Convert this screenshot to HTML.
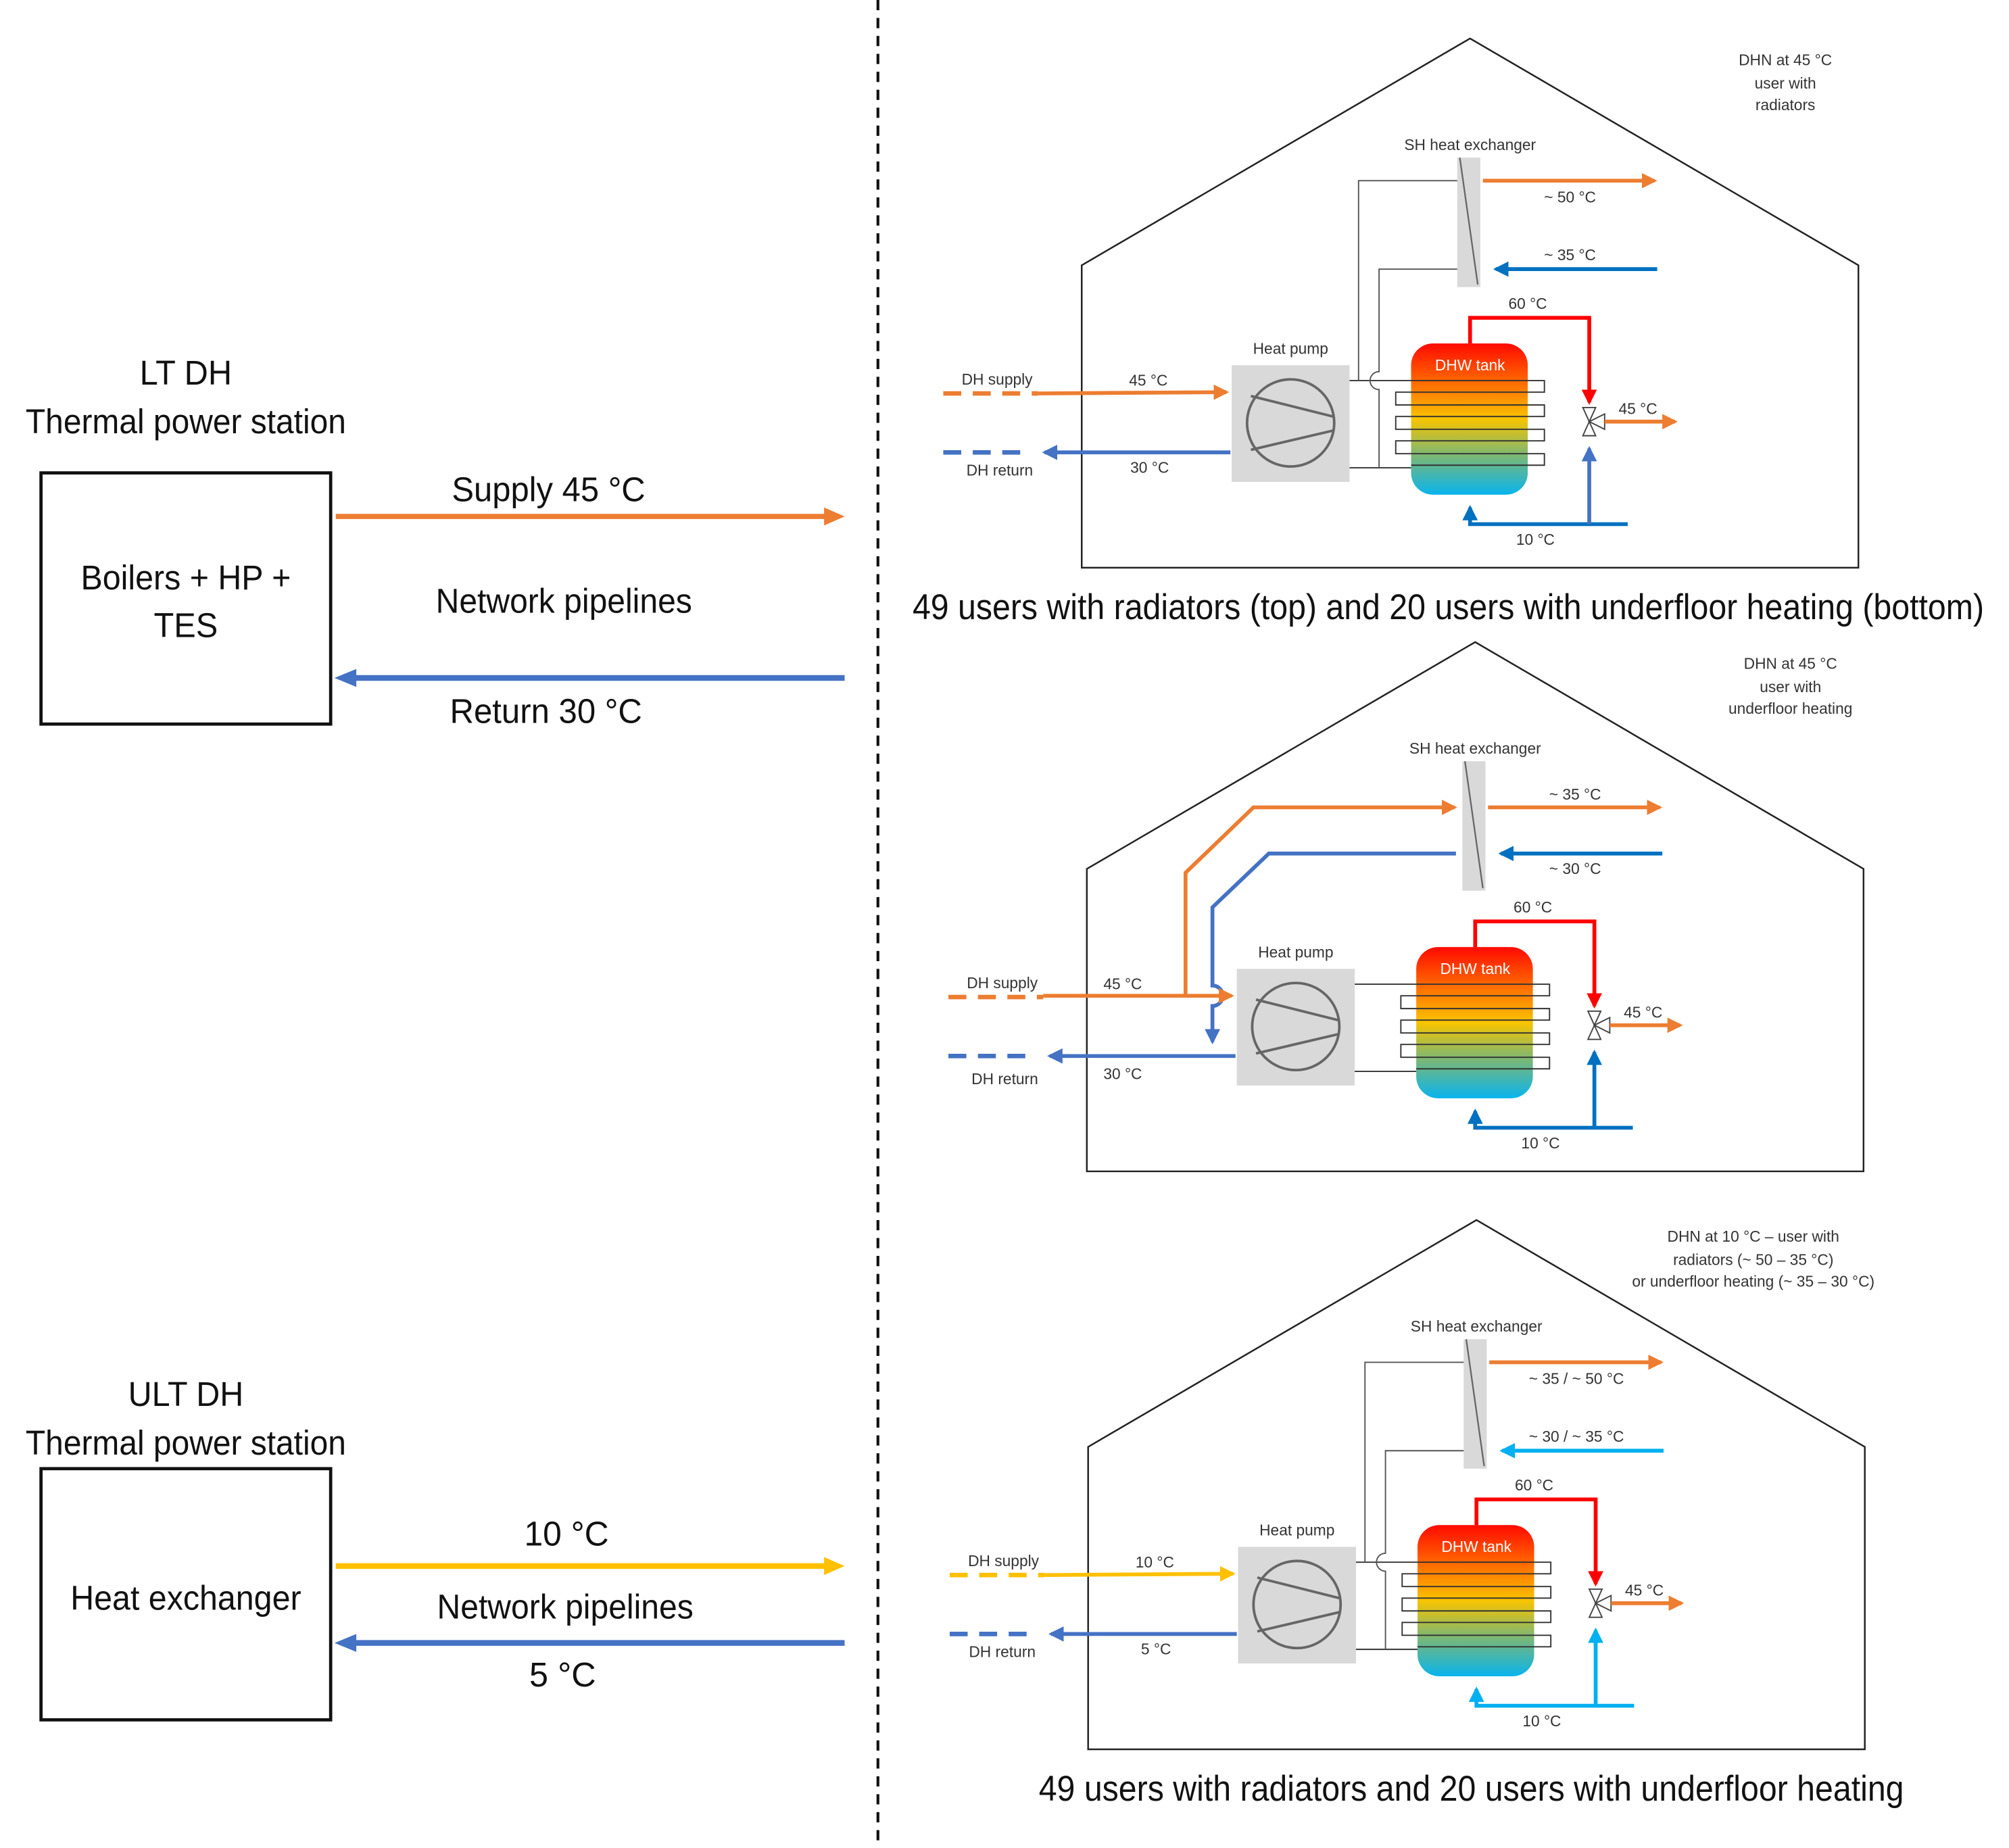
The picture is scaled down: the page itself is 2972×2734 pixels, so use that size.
<!DOCTYPE html>
<html><head><meta charset="utf-8"><style>html,body{margin:0;padding:0;background:#fff}svg{display:block}</style></head>
<body>
<svg xmlns="http://www.w3.org/2000/svg" width="2972" height="2734" viewBox="0 0 1567.5 1442" preserveAspectRatio="none" font-family="Liberation Sans, sans-serif">
<defs>
<linearGradient id="tg" x1="0" y1="0" x2="0" y2="1">
<stop offset="0" stop-color="#ff0a00"/><stop offset="0.3" stop-color="#ff7a00"/><stop offset="0.5" stop-color="#f8c400"/><stop offset="0.72" stop-color="#86b86a"/><stop offset="1" stop-color="#08b4ee"/>
</linearGradient>
<marker id="mo" markerUnits="userSpaceOnUse" markerWidth="12" markerHeight="12" refX="10" refY="6" orient="auto"><path d="M0,0 L12,6 L0,12 z" fill="#ed7d31"/></marker>
<marker id="my" markerUnits="userSpaceOnUse" markerWidth="12" markerHeight="12" refX="10" refY="6" orient="auto"><path d="M0,0 L12,6 L0,12 z" fill="#ffc000"/></marker>
<marker id="mb" markerUnits="userSpaceOnUse" markerWidth="12" markerHeight="12" refX="10" refY="6" orient="auto"><path d="M0,0 L12,6 L0,12 z" fill="#4472c4"/></marker>
<marker id="md" markerUnits="userSpaceOnUse" markerWidth="12" markerHeight="12" refX="10" refY="6" orient="auto"><path d="M0,0 L12,6 L0,12 z" fill="#0070c0"/></marker>
<marker id="mc" markerUnits="userSpaceOnUse" markerWidth="12" markerHeight="12" refX="10" refY="6" orient="auto"><path d="M0,0 L12,6 L0,12 z" fill="#00b0f0"/></marker>
<marker id="mr" markerUnits="userSpaceOnUse" markerWidth="12" markerHeight="12" refX="10" refY="6" orient="auto"><path d="M0,0 L12,6 L0,12 z" fill="#ff0000"/></marker>
<g id="base">
<path d="M844,443 V207 L1147,30 L1450,207 V443 Z" fill="none" stroke="#222" stroke-width="1.3"/>
<rect x="1137" y="123" width="18" height="101" fill="#d9d9d9"/>
<line x1="1139" y1="123" x2="1153" y2="222" stroke="#666" stroke-width="1.2"/>
<rect x="961" y="285" width="92" height="91" fill="#d9d9d9"/>
<circle cx="1007" cy="330" r="34" fill="none" stroke="#666" stroke-width="2"/>
<line x1="976" y1="309" x2="1040" y2="325" stroke="#666" stroke-width="2"/>
<line x1="976" y1="351" x2="1040" y2="336" stroke="#666" stroke-width="2"/>
<rect x="1101" y="268" width="91" height="118" rx="17" fill="url(#tg)"/>
<path d="M1053,297 H1205 V306 H1089 V316 H1205 V325 H1089 V335 H1205 V344 H1089 V354 H1205 V363 H1101 M1101,365 H1053" fill="none" stroke="#333" stroke-width="1"/>
<path d="M1147,268 V248 H1240 V314" fill="none" stroke="#ff0000" stroke-width="3" marker-end="url(#mr)"/>
<path d="M1235,318 L1245,318 L1240,329 Z M1235,340 L1245,340 L1240,329 Z M1252,323 L1252,335 L1240,329 Z" fill="#fff" stroke="#444" stroke-width="1"/>
<line x1="1252" y1="329" x2="1307" y2="329" stroke="#ed7d31" stroke-width="3" marker-end="url(#mo)"/>
</g>
</defs>

<line x1="685" y1="0" x2="685" y2="1442" stroke="#111" stroke-width="2.2" stroke-dasharray="8,6"/>
<g font-size="27" text-anchor="middle" fill="#111">
<text x="145" y="300" textLength="72" lengthAdjust="spacingAndGlyphs">LT DH</text>
<text x="145" y="338" textLength="250" lengthAdjust="spacingAndGlyphs">Thermal power station</text>
<text x="145" y="460" textLength="164" lengthAdjust="spacingAndGlyphs">Boilers + HP +</text>
<text x="145" y="497" textLength="50" lengthAdjust="spacingAndGlyphs">TES</text>
<text x="428" y="391" textLength="151" lengthAdjust="spacingAndGlyphs">Supply 45 °C</text>
<text x="440" y="478" textLength="200" lengthAdjust="spacingAndGlyphs">Network pipelines</text>
<text x="426" y="564" textLength="150" lengthAdjust="spacingAndGlyphs">Return 30 °C</text>
<text x="145" y="1097" textLength="90" lengthAdjust="spacingAndGlyphs">ULT DH</text>
<text x="145" y="1135" textLength="250" lengthAdjust="spacingAndGlyphs">Thermal power station</text>
<text x="145" y="1256" textLength="180" lengthAdjust="spacingAndGlyphs">Heat exchanger</text>
<text x="442" y="1206" textLength="66" lengthAdjust="spacingAndGlyphs">10 °C</text>
<text x="441" y="1263" textLength="200" lengthAdjust="spacingAndGlyphs">Network pipelines</text>
<text x="439" y="1316" textLength="52" lengthAdjust="spacingAndGlyphs">5 °C</text>
</g>
<rect x="32" y="369" width="226" height="196" fill="none" stroke="#111" stroke-width="2.5"/>
<rect x="32" y="1146" width="226" height="196" fill="none" stroke="#111" stroke-width="2.5"/>
<line x1="262" y1="403" x2="645" y2="403" stroke="#ed7d31" stroke-width="4"/><path d="M643,396 L659,403 L643,410 Z" fill="#ed7d31"/>
<line x1="277" y1="529" x2="659" y2="529" stroke="#4472c4" stroke-width="4.5"/><path d="M278,522 L261,529 L278,536 Z" fill="#4472c4"/>
<line x1="262" y1="1222" x2="645" y2="1222" stroke="#ffc000" stroke-width="4.5"/><path d="M643,1215 L659,1222 L643,1229 Z" fill="#ffc000"/>
<line x1="277" y1="1282" x2="659" y2="1282" stroke="#4472c4" stroke-width="4.5"/><path d="M278,1275 L261,1282 L278,1289 Z" fill="#4472c4"/>

<use href="#base"/>
<path d="M1137,141 H1060 V297" fill="none" stroke="#555" stroke-width="1"/>
<path d="M1137,210 H1076 V290 A7,7 0 0 0 1076,304 V365" fill="none" stroke="#555" stroke-width="1"/>
<line x1="1157" y1="141" x2="1291" y2="141" stroke="#ed7d31" stroke-width="3" marker-end="url(#mo)"/>
<line x1="1293" y1="210" x2="1167" y2="210" stroke="#0070c0" stroke-width="3" marker-end="url(#md)"/>
<path d="M1270,409 H1147 V396" fill="none" stroke="#0070c0" stroke-width="3" marker-end="url(#md)"/>
<path d="M1240,409 V350" fill="none" stroke="#4472c4" stroke-width="3" marker-end="url(#mb)"/>
<line x1="736" y1="307" x2="810" y2="307" stroke="#ed7d31" stroke-width="3.5" stroke-dasharray="14,9"/>
<line x1="810" y1="307" x2="957" y2="306" stroke="#ed7d31" stroke-width="3" marker-end="url(#mo)"/>
<line x1="736" y1="353" x2="805" y2="353" stroke="#4472c4" stroke-width="3.5" stroke-dasharray="14,9"/>
<line x1="960" y1="353" x2="815" y2="353" stroke="#4472c4" stroke-width="3" marker-end="url(#mb)"/>
<g font-size="12" fill="#333" text-anchor="middle">
<text x="1147" y="117">SH heat exchanger</text><text x="1007" y="276">Heat pump</text>
<text x="1147" y="289" fill="#fff">DHW tank</text><text x="1192" y="241">60 °C</text>
<text x="1278" y="323">45 °C</text><text x="1198" y="425">10 °C</text>
<text x="778" y="300">DH supply</text><text x="780" y="371">DH return</text>
<text x="896" y="301">45 °C</text><text x="897" y="369">30 °C</text>
<text x="1225" y="158">~ 50 °C</text><text x="1225" y="203">~ 35  °C</text>
<text x="1393" y="51">DHN at 45 °C</text><text x="1393" y="69">user with</text><text x="1393" y="86">radiators</text>
</g>
<text x="1130" y="483" font-size="28" text-anchor="middle" fill="#111" textLength="836" lengthAdjust="spacingAndGlyphs">49 users with radiators (top) and 20 users with underfloor heating (bottom)</text>

<g transform="translate(4,471)">
<use href="#base"/>
<path d="M1270,409 H1147 V396" fill="none" stroke="#0070c0" stroke-width="3" marker-end="url(#md)"/>
<path d="M1240,409 V350" fill="none" stroke="#0070c0" stroke-width="3" marker-end="url(#md)"/>
<line x1="1157" y1="159" x2="1291" y2="159" stroke="#ed7d31" stroke-width="3" marker-end="url(#mo)"/>
<line x1="1293" y1="195" x2="1167" y2="195" stroke="#0070c0" stroke-width="3" marker-end="url(#md)"/>
<path d="M921,306 V210 L974,159 H1131" fill="none" stroke="#ed7d31" stroke-width="3" marker-end="url(#mo)"/>
<path d="M1132,195 H986 L942,237 V298 A8,8 0 0 1 942,314 V342" fill="none" stroke="#4472c4" stroke-width="3" marker-end="url(#mb)"/>
<line x1="736" y1="307" x2="810" y2="307" stroke="#ed7d31" stroke-width="3.5" stroke-dasharray="14,9"/>
<line x1="810" y1="306" x2="957" y2="306" stroke="#ed7d31" stroke-width="3" marker-end="url(#mo)"/>
<line x1="736" y1="353" x2="805" y2="353" stroke="#4472c4" stroke-width="3.5" stroke-dasharray="14,9"/>
<line x1="960" y1="353" x2="815" y2="353" stroke="#4472c4" stroke-width="3" marker-end="url(#mb)"/>
<g font-size="12" fill="#333" text-anchor="middle">
<text x="1147" y="117">SH heat exchanger</text><text x="1007" y="276">Heat pump</text>
<text x="1147" y="289" fill="#fff">DHW tank</text><text x="1192" y="241">60 °C</text>
<text x="1278" y="323">45 °C</text><text x="1198" y="425">10 °C</text>
<text x="778" y="300">DH supply</text><text x="780" y="375">DH return</text>
<text x="872" y="301">45 °C</text><text x="872" y="371">30 °C</text>
<text x="1225" y="153">~ 35 °C</text><text x="1225" y="211">~ 30 °C</text>
<text x="1393" y="51">DHN at 45 °C</text><text x="1393" y="69">user with</text><text x="1393" y="86">underfloor heating</text>
</g>
</g>

<g transform="translate(5,922)">
<use href="#base"/>
<path d="M1137,141 H1060 V297" fill="none" stroke="#555" stroke-width="1"/>
<path d="M1137,210 H1076 V290 A7,7 0 0 0 1076,304 V365" fill="none" stroke="#555" stroke-width="1"/>
<line x1="1157" y1="141" x2="1291" y2="141" stroke="#ed7d31" stroke-width="3" marker-end="url(#mo)"/>
<line x1="1293" y1="210" x2="1167" y2="210" stroke="#00b0f0" stroke-width="3" marker-end="url(#mc)"/>
<path d="M1270,409 H1147 V396" fill="none" stroke="#00b0f0" stroke-width="3" marker-end="url(#mc)"/>
<path d="M1240,409 V350" fill="none" stroke="#00b0f0" stroke-width="3" marker-end="url(#mc)"/>
<line x1="736" y1="307" x2="810" y2="307" stroke="#ffc000" stroke-width="3.5" stroke-dasharray="14,9"/>
<line x1="810" y1="307" x2="957" y2="306" stroke="#ffc000" stroke-width="3" marker-end="url(#my)"/>
<line x1="736" y1="353" x2="805" y2="353" stroke="#4472c4" stroke-width="3.5" stroke-dasharray="14,9"/>
<line x1="960" y1="353" x2="815" y2="353" stroke="#4472c4" stroke-width="3" marker-end="url(#mb)"/>
<g font-size="12" fill="#333" text-anchor="middle">
<text x="1147" y="117">SH heat exchanger</text><text x="1007" y="276">Heat pump</text>
<text x="1147" y="289" fill="#fff">DHW tank</text><text x="1192" y="241">60 °C</text>
<text x="1278" y="323">45 °C</text><text x="1198" y="425">10 °C</text>
<text x="778" y="300">DH supply</text><text x="777" y="371">DH return</text>
<text x="896" y="301">10 °C</text><text x="897" y="369">5 °C</text>
<text x="1225" y="158">~ 35 / ~ 50 °C</text><text x="1225" y="203">~ 30 / ~ 35  °C</text>
</g>
</g>
<g font-size="12" fill="#333" text-anchor="middle">
<text x="1368" y="969">DHN at 10 °C – user with</text>
<text x="1368" y="987">radiators (~ 50 – 35 °C)</text>
<text x="1368" y="1004">or underfloor heating (~ 35 – 30 °C)</text>
</g>
<text x="1148" y="1405" font-size="28" text-anchor="middle" fill="#111" textLength="675" lengthAdjust="spacingAndGlyphs">49 users with radiators and 20 users with underfloor heating</text>
</svg>
</body></html>
